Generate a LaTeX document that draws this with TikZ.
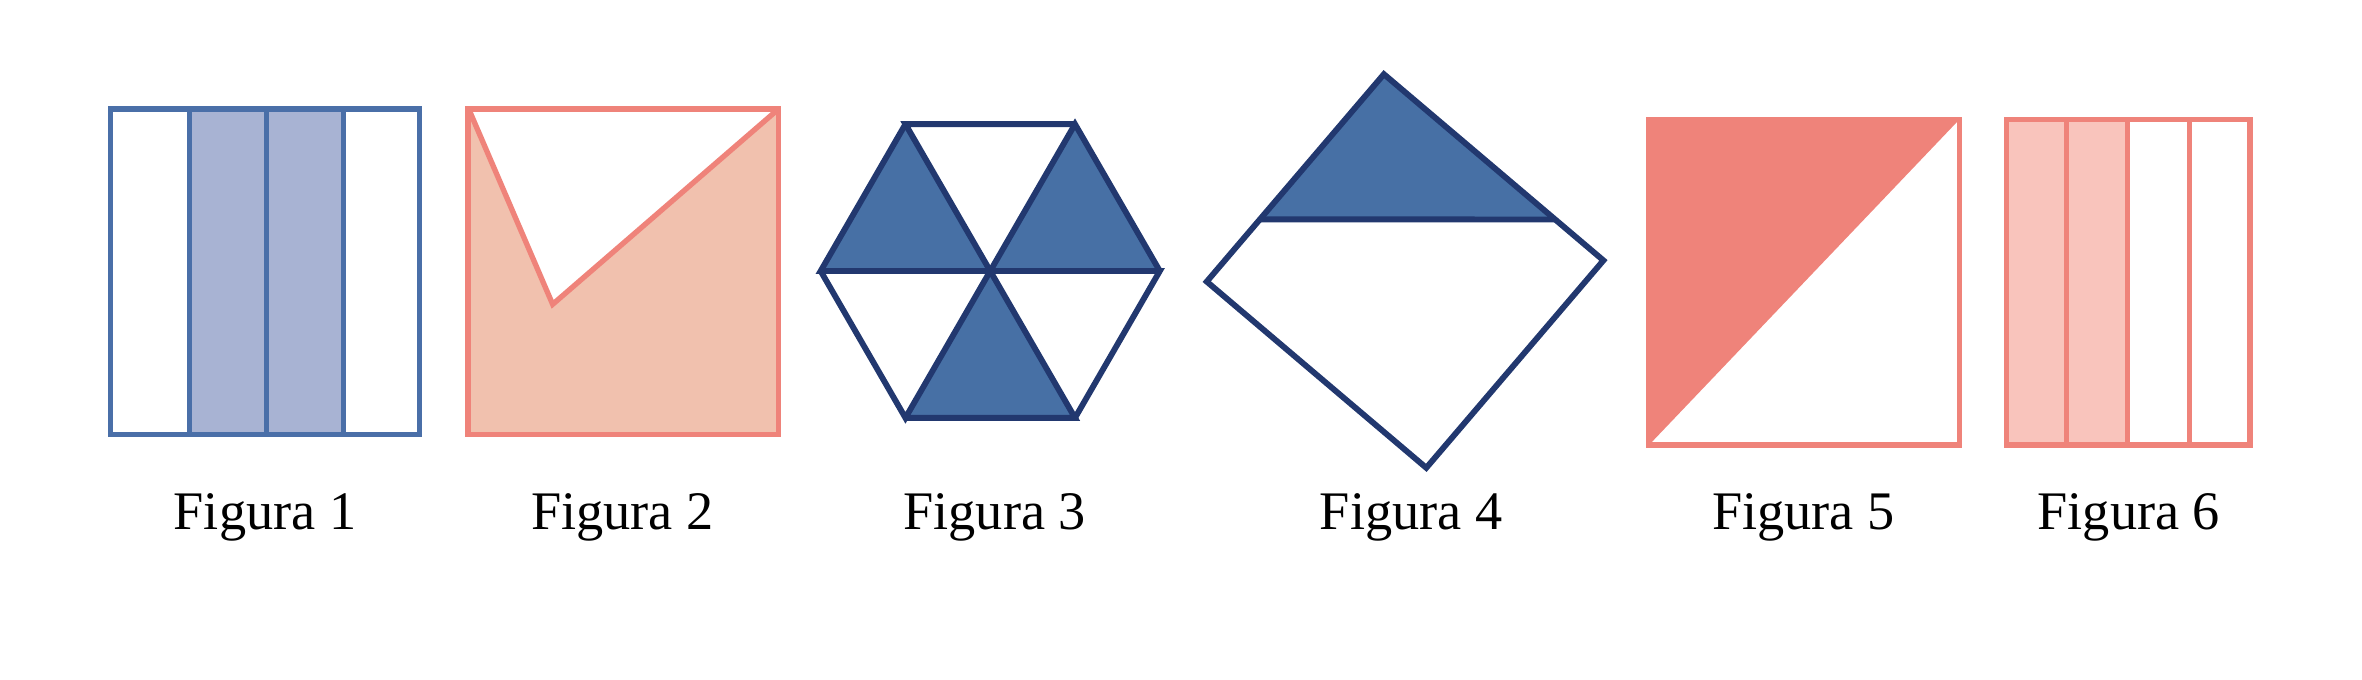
\documentclass[tikz,border=0pt]{standalone}
\usepackage{fontspec}
\setmainfont{Liberation Serif}
\usepackage{xcolor}
\usepackage{tikz}
\usetikzlibrary{calc}
\definecolor{barblue}{HTML}{4A6FA8}
\definecolor{barlilac}{HTML}{A8B3D3}
\definecolor{hexnavy}{HTML}{22386F}
\definecolor{hexblue}{HTML}{4770A5}
\definecolor{coral}{HTML}{EF837A}
\definecolor{peach}{HTML}{F1C1AE}
\definecolor{rose}{HTML}{F9C4BC}
\tikzset{
  figlabel/.style={anchor=base,font=\fontsize{10.2}{12}\selectfont},
  blueline/.style={draw=barblue,line width=1pt},
  navyline/.style={draw=hexnavy,line width=1.1pt,line join=miter},
  coralline/.style={draw=coral,line width=1pt}
}

\begin{document}
\begin{tikzpicture}[x=0.01cm,y=-0.01cm]
  \useasboundingbox (0,0) rectangle (1560,449);

  % Figura 1
  \fill[barlilac] (125,72) rectangle (227,287);
  \foreach \x in {125,176,227}
    \draw[blueline] (\x,72) -- (\x,287);
  \draw[blueline] (73,72) rectangle (277,287);
  \node[figlabel] (lab1) at (175,350) {Figura 1};

  % Figura 2
  \path
    (310,73) coordinate (P1)
    (513,73) coordinate (P2)
    (365,201) coordinate (P3);
  \fill[peach] (309,72) rectangle (514,287);
  \fill[white] (P1) -- (P2) -- (P3) -- cycle;
  \draw[coralline] (P1) -- (P3) -- (P2);
  \draw[coralline] (309,72) rectangle (514,287);
  \node[figlabel] (lab2) at (411,350) {Figura 2};

  % Figura 3
  \begin{scope}[shift={(654,179)}]
    \coordinate (H) at (0,0);
    \foreach \a in {60,180,300}
      \fill[hexblue] (H) -- (\a:112) -- (\a+60:112) -- cycle;
    \foreach \a in {0,60,...,300}
      \draw[navyline] (H) -- (\a:112) -- (\a+60:112);
  \end{scope}
  \node[figlabel] (lab3) at (657,350) {Figura 3};

  % Figura 4
  \path
    (914,49) coordinate (T)
    (1059,172) coordinate (R)
    (942,309) coordinate (B)
    (797,186) coordinate (L)
    ($(T)!0.70!(L)$) coordinate (CL)
    ($(T)!0.78!(R)$) coordinate (CR);
  \fill[hexblue] (T) -- (CR) -- (CL) -- cycle;
  \draw[navyline] (T) -- (R) -- (B) -- (L) -- cycle;
  \draw[navyline] (CL) -- (CR);
  \node[figlabel] (lab4) at (932,350) {Figura 4};

  % Figura 5
  \fill[coral] (1089,79) -- (1294,79) -- (1089,294) -- cycle;
  \draw[coralline] (1089,79) rectangle (1294,294);
  \node[figlabel] (lab5) at (1191,350) {Figura 5};

  % Figura 6
  \fill[rose] (1325,79) rectangle (1405,294);
  \foreach \x in {1365,1405,1446}
    \draw[coralline] (\x,79) -- (\x,294);
  \draw[coralline] (1325,79) rectangle (1486,294);
  \node[figlabel] (lab6) at (1406,350) {Figura 6};
\end{tikzpicture}
\end{document}
